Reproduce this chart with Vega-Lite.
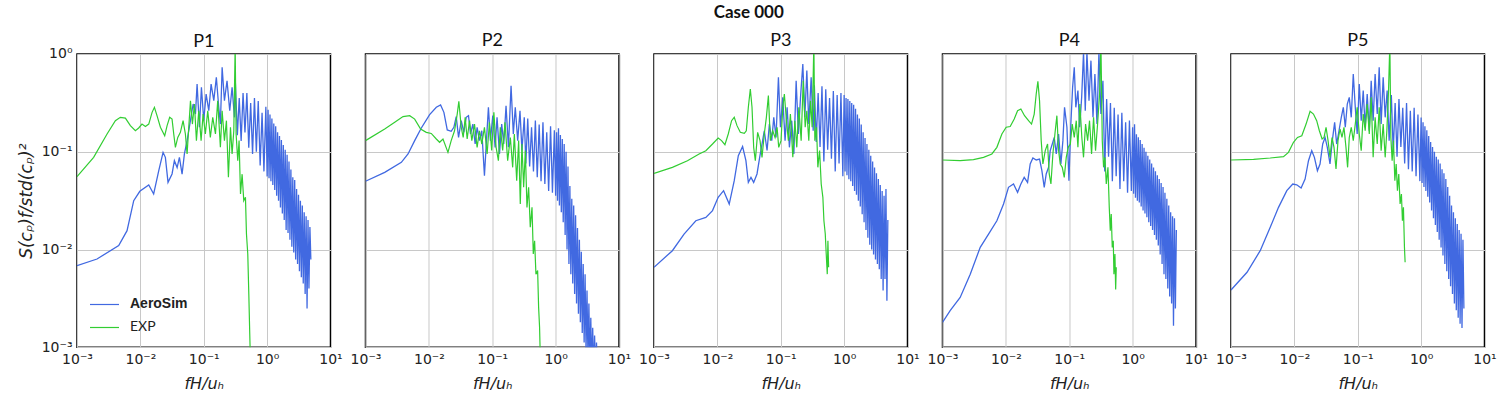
{
"$schema": "https://vega.github.io/schema/vega-lite/v6.json",
"padding": {"left": 16, "top": 4, "right": 10, "bottom": 4},
"title": {"text": "Case 000", "font": "Lato", "fontSize": 17, "fontWeight": "bold", "anchor": "middle", "dx": -8, "offset": 9, "color": "#111"},
"datasets": {
"p1a": [{"x":0.001,"y":0.00684},{"x":0.00207,"y":0.008},{"x":0.00455,"y":0.011},{"x":0.00616,"y":0.0156},{"x":0.00785,"y":0.0316},{"x":0.0098,"y":0.0394},{"x":0.01355,"y":0.0457},{"x":0.0162,"y":0.037},{"x":0.0195,"y":0.064},{"x":0.0228,"y":0.0986},{"x":0.0248,"y":0.0877},{"x":0.0273,"y":0.0486},{"x":0.0316,"y":0.0593},{"x":0.0344,"y":0.081},{"x":0.038,"y":0.069},{"x":0.0413,"y":0.0877},{"x":0.0455,"y":0.059},{"x":0.0495,"y":0.095},{"x":0.0546,"y":0.13},{"x":0.0617,"y":0.209},{"x":0.068,"y":0.308},{"x":0.074,"y":0.243},{"x":0.0785,"y":0.493},{"x":0.0855,"y":0.178},{"x":0.0919,"y":0.457},{"x":0.1,"y":0.209},{"x":0.109,"y":0.39},{"x":0.12,"y":0.263},{"x":0.1306,"y":0.493},{"x":0.144,"y":0.333},{"x":0.158,"y":0.576},{"x":0.1725,"y":0.285},{"x":0.183,"y":0.192},{"x":0.195,"y":0.73},{"x":0.212,"y":0.333},{"x":0.233,"y":0.533},{"x":0.257,"y":0.263},{"x":0.28,"y":0.457},{"x":0.305,"y":0.225},{"x":0.316,"y":0.5},{"x":0.339,"y":0.148},{"x":0.363,"y":0.355},{"x":0.389,"y":0.129},{"x":0.417,"y":0.398},{"x":0.447,"y":0.158},{"x":0.479,"y":0.398},{"x":0.513,"y":0.11},{"x":0.55,"y":0.316},{"x":0.589,"y":0.095},{"x":0.631,"y":0.355},{"x":0.676,"y":0.1},{"x":0.724,"y":0.331},{"x":0.776,"y":0.0724},{"x":0.832,"y":0.251},{"x":0.891,"y":0.063},{"x":0.955,"y":0.288},{"x":1.0,"y":0.056},{"x":1.035,"y":0.269},{"x":1.072,"y":0.0537},{"x":1.109,"y":0.24},{"x":1.148,"y":0.05},{"x":1.189,"y":0.219},{"x":1.23,"y":0.0457},{"x":1.274,"y":0.195},{"x":1.318,"y":0.0407},{"x":1.365,"y":0.182},{"x":1.413,"y":0.0355},{"x":1.462,"y":0.158},{"x":1.514,"y":0.0316},{"x":1.567,"y":0.145},{"x":1.622,"y":0.0269},{"x":1.679,"y":0.132},{"x":1.738,"y":0.0234},{"x":1.799,"y":0.117},{"x":1.862,"y":0.02},{"x":1.928,"y":0.105},{"x":1.995,"y":0.0158},{"x":2.065,"y":0.0933},{"x":2.138,"y":0.0148},{"x":2.213,"y":0.0794},{"x":2.291,"y":0.0126},{"x":2.371,"y":0.066},{"x":2.455,"y":0.0107},{"x":2.541,"y":0.055},{"x":2.63,"y":0.0093},{"x":2.723,"y":0.0513},{"x":2.818,"y":0.0079},{"x":2.917,"y":0.0417},{"x":3.02,"y":0.0071},{"x":3.126,"y":0.0363},{"x":3.236,"y":0.006},{"x":3.35,"y":0.0316},{"x":3.467,"y":0.0052},{"x":3.589,"y":0.0282},{"x":3.715,"y":0.0045},{"x":3.846,"y":0.024},{"x":3.981,"y":0.0035},{"x":4.121,"y":0.0219},{"x":4.266,"y":0.0025},{"x":4.416,"y":0.02},{"x":4.571,"y":0.004},{"x":4.732,"y":0.017},{"x":4.898,"y":0.0079}],
"p1e": [{"x":0.001,"y":0.0556},{"x":0.00183,"y":0.0877},{"x":0.00298,"y":0.152},{"x":0.00403,"y":0.208},{"x":0.00483,"y":0.225},{"x":0.0058,"y":0.221},{"x":0.00695,"y":0.185},{"x":0.00834,"y":0.164},{"x":0.0094,"y":0.175},{"x":0.0106,"y":0.192},{"x":0.012,"y":0.181},{"x":0.01355,"y":0.192},{"x":0.0153,"y":0.253},{"x":0.01665,"y":0.285},{"x":0.0183,"y":0.234},{"x":0.0207,"y":0.178},{"x":0.0242,"y":0.146},{"x":0.0264,"y":0.185},{"x":0.029,"y":0.225},{"x":0.0316,"y":0.216},{"x":0.0336,"y":0.152},{"x":0.0357,"y":0.111},{"x":0.0389,"y":0.14},{"x":0.0428,"y":0.158},{"x":0.0472,"y":0.208},{"x":0.0513,"y":0.152},{"x":0.0546,"y":0.095},{"x":0.058,"y":0.178},{"x":0.0617,"y":0.333},{"x":0.0662,"y":0.192},{"x":0.0713,"y":0.308},{"x":0.0766,"y":0.13},{"x":0.0834,"y":0.263},{"x":0.0908,"y":0.13},{"x":0.0976,"y":0.243},{"x":0.106,"y":0.152},{"x":0.1156,"y":0.263},{"x":0.127,"y":0.14},{"x":0.1387,"y":0.225},{"x":0.153,"y":0.152},{"x":0.166,"y":0.333},{"x":0.183,"y":0.111},{"x":0.195,"y":0.263},{"x":0.212,"y":0.13},{"x":0.228,"y":0.208},{"x":0.245,"y":0.0548},{"x":0.264,"y":0.178},{"x":0.28,"y":0.095},{"x":0.298,"y":0.164},{"x":0.313,"y":1.2},{"x":0.324,"y":0.152},{"x":0.344,"y":0.081},{"x":0.361,"y":0.13},{"x":0.38,"y":0.037},{"x":0.403,"y":0.059},{"x":0.428,"y":0.0316},{"x":0.455,"y":0.0342},{"x":0.472,"y":0.0144},{"x":0.495,"y":0.009},{"x":0.514,"y":0.0035},{"x":0.532,"y":0.00137},{"x":0.546,"y":0.0007}],
"p2a": [{"x":0.001,"y":0.0499},{"x":0.00201,"y":0.0616},{"x":0.00368,"y":0.078},{"x":0.00469,"y":0.095},{"x":0.00597,"y":0.13},{"x":0.0076,"y":0.175},{"x":0.01028,"y":0.24},{"x":0.0131,"y":0.285},{"x":0.0153,"y":0.301},{"x":0.01726,"y":0.253},{"x":0.0195,"y":0.167},{"x":0.0225,"y":0.162},{"x":0.0248,"y":0.178},{"x":0.027,"y":0.229},{"x":0.0294,"y":0.14},{"x":0.0324,"y":0.208},{"x":0.0356,"y":0.158},{"x":0.0388,"y":0.225},{"x":0.0422,"y":0.234},{"x":0.0454,"y":0.152},{"x":0.0494,"y":0.192},{"x":0.0537,"y":0.12},{"x":0.0577,"y":0.178},{"x":0.0628,"y":0.13},{"x":0.0684,"y":0.164},{"x":0.0753,"y":0.0569},{"x":0.081,"y":0.13},{"x":0.087,"y":0.285},{"x":0.0936,"y":0.13},{"x":0.102,"y":0.234},{"x":0.111,"y":0.111},{"x":0.119,"y":0.225},{"x":0.13,"y":0.095},{"x":0.141,"y":0.192},{"x":0.152,"y":0.12},{"x":0.165,"y":0.296},{"x":0.18,"y":0.111},{"x":0.198,"y":0.474},{"x":0.215,"y":0.152},{"x":0.231,"y":0.285},{"x":0.252,"y":0.13},{"x":0.274,"y":0.263},{"x":0.294,"y":0.103},{"x":0.32,"y":0.225},{"x":0.339,"y":0.0759},{"x":0.363,"y":0.219},{"x":0.389,"y":0.0708},{"x":0.417,"y":0.178},{"x":0.447,"y":0.063},{"x":0.479,"y":0.209},{"x":0.513,"y":0.055},{"x":0.55,"y":0.19},{"x":0.589,"y":0.05},{"x":0.631,"y":0.2},{"x":0.676,"y":0.0468},{"x":0.724,"y":0.158},{"x":0.776,"y":0.0398},{"x":0.832,"y":0.182},{"x":0.891,"y":0.038},{"x":0.955,"y":0.166},{"x":1.0,"y":0.0355},{"x":1.035,"y":0.158},{"x":1.072,"y":0.0316},{"x":1.109,"y":0.174},{"x":1.148,"y":0.0282},{"x":1.189,"y":0.148},{"x":1.23,"y":0.024},{"x":1.274,"y":0.135},{"x":1.318,"y":0.019},{"x":1.365,"y":0.12},{"x":1.413,"y":0.0141},{"x":1.462,"y":0.1},{"x":1.514,"y":0.01},{"x":1.567,"y":0.0708},{"x":1.622,"y":0.0071},{"x":1.679,"y":0.0447},{"x":1.738,"y":0.0056},{"x":1.799,"y":0.0331},{"x":1.862,"y":0.0045},{"x":1.928,"y":0.0282},{"x":1.995,"y":0.0035},{"x":2.065,"y":0.0224},{"x":2.138,"y":0.0028},{"x":2.213,"y":0.0166},{"x":2.291,"y":0.0022},{"x":2.371,"y":0.0126},{"x":2.455,"y":0.0018},{"x":2.541,"y":0.0095},{"x":2.63,"y":0.0014},{"x":2.723,"y":0.0071},{"x":2.818,"y":0.00112},{"x":2.917,"y":0.0056},{"x":3.02,"y":0.00089},{"x":3.126,"y":0.0038},{"x":3.236,"y":0.00079},{"x":3.35,"y":0.0028},{"x":3.467,"y":0.00063},{"x":3.589,"y":0.002},{"x":3.715,"y":0.00056},{"x":3.846,"y":0.00158},{"x":3.981,"y":0.0005},{"x":4.121,"y":0.00132},{"x":4.266,"y":0.0005},{"x":4.416,"y":0.00112},{"x":4.571,"y":0.0005},{"x":4.732,"y":0.00079}],
"p2e": [{"x":0.001,"y":0.13},{"x":0.00201,"y":0.171},{"x":0.00289,"y":0.2},{"x":0.00391,"y":0.229},{"x":0.00498,"y":0.234},{"x":0.00597,"y":0.216},{"x":0.00741,"y":0.171},{"x":0.0091,"y":0.158},{"x":0.0109,"y":0.154},{"x":0.0131,"y":0.135},{"x":0.01476,"y":0.125},{"x":0.0167,"y":0.135},{"x":0.02,"y":0.0986},{"x":0.0225,"y":0.13},{"x":0.0254,"y":0.164},{"x":0.028,"y":0.243},{"x":0.0297,"y":0.328},{"x":0.0324,"y":0.178},{"x":0.0348,"y":0.14},{"x":0.0374,"y":0.225},{"x":0.0402,"y":0.135},{"x":0.0438,"y":0.208},{"x":0.0476,"y":0.13},{"x":0.0525,"y":0.192},{"x":0.0577,"y":0.111},{"x":0.0628,"y":0.164},{"x":0.0684,"y":0.12},{"x":0.0753,"y":0.178},{"x":0.083,"y":0.095},{"x":0.0902,"y":0.2},{"x":0.098,"y":0.103},{"x":0.106,"y":0.253},{"x":0.115,"y":0.111},{"x":0.125,"y":0.081},{"x":0.134,"y":0.178},{"x":0.146,"y":0.103},{"x":0.159,"y":0.2},{"x":0.175,"y":0.081},{"x":0.193,"y":0.14},{"x":0.21,"y":0.0693},{"x":0.223,"y":0.152},{"x":0.243,"y":0.0506},{"x":0.261,"y":0.13},{"x":0.277,"y":0.0292},{"x":0.294,"y":0.12},{"x":0.313,"y":0.0433},{"x":0.333,"y":0.103},{"x":0.353,"y":0.027},{"x":0.375,"y":0.0433},{"x":0.398,"y":0.0169},{"x":0.424,"y":0.027},{"x":0.444,"y":0.009},{"x":0.466,"y":0.0123},{"x":0.489,"y":0.0056},{"x":0.52,"y":0.0061},{"x":0.539,"y":0.00256},{"x":0.558,"y":0.0016},{"x":0.573,"y":0.0008}],
"p3a": [{"x":0.001,"y":0.00658},{"x":0.00195,"y":0.00973},{"x":0.00298,"y":0.0144},{"x":0.00457,"y":0.0197},{"x":0.00658,"y":0.0213},{"x":0.00838,"y":0.025},{"x":0.0103,"y":0.0342},{"x":0.01253,"y":0.04},{"x":0.01538,"y":0.0292},{"x":0.01846,"y":0.0506},{"x":0.0214,"y":0.0912},{"x":0.025,"y":0.113},{"x":0.0282,"y":0.081},{"x":0.0308,"y":0.0486},{"x":0.0339,"y":0.0547},{"x":0.0374,"y":0.0486},{"x":0.0422,"y":0.0593},{"x":0.0465,"y":0.0877},{"x":0.0506,"y":0.12},{"x":0.055,"y":0.164},{"x":0.0608,"y":0.103},{"x":0.0662,"y":0.192},{"x":0.0721,"y":0.13},{"x":0.0776,"y":0.225},{"x":0.0843,"y":0.14},{"x":0.0919,"y":0.577},{"x":0.0989,"y":0.178},{"x":0.1076,"y":0.36},{"x":0.117,"y":0.13},{"x":0.126,"y":0.285},{"x":0.137,"y":0.111},{"x":0.149,"y":0.208},{"x":0.161,"y":0.095},{"x":0.175,"y":0.533},{"x":0.19,"y":0.152},{"x":0.205,"y":0.36},{"x":0.223,"y":0.79},{"x":0.24,"y":0.225},{"x":0.258,"y":0.676},{"x":0.277,"y":0.192},{"x":0.302,"y":0.577},{"x":0.325,"y":0.164},{"x":0.339,"y":0.479},{"x":0.363,"y":0.126},{"x":0.389,"y":0.398},{"x":0.417,"y":0.112},{"x":0.447,"y":0.468},{"x":0.479,"y":0.0794},{"x":0.513,"y":0.437},{"x":0.55,"y":0.105},{"x":0.589,"y":0.355},{"x":0.631,"y":0.0851},{"x":0.676,"y":0.417},{"x":0.724,"y":0.063},{"x":0.776,"y":0.38},{"x":0.832,"y":0.0759},{"x":0.891,"y":0.398},{"x":0.955,"y":0.0562},{"x":1.0,"y":0.38},{"x":1.035,"y":0.063},{"x":1.072,"y":0.355},{"x":1.109,"y":0.0575},{"x":1.148,"y":0.347},{"x":1.189,"y":0.0525},{"x":1.23,"y":0.331},{"x":1.274,"y":0.05},{"x":1.318,"y":0.316},{"x":1.365,"y":0.0447},{"x":1.413,"y":0.302},{"x":1.462,"y":0.0398},{"x":1.514,"y":0.275},{"x":1.567,"y":0.0363},{"x":1.622,"y":0.24},{"x":1.679,"y":0.0316},{"x":1.738,"y":0.219},{"x":1.799,"y":0.0275},{"x":1.862,"y":0.19},{"x":1.928,"y":0.0229},{"x":1.995,"y":0.158},{"x":2.065,"y":0.019},{"x":2.138,"y":0.138},{"x":2.213,"y":0.0158},{"x":2.291,"y":0.12},{"x":2.371,"y":0.0132},{"x":2.455,"y":0.105},{"x":2.541,"y":0.0112},{"x":2.63,"y":0.0912},{"x":2.723,"y":0.01},{"x":2.818,"y":0.0794},{"x":2.917,"y":0.0089},{"x":3.02,"y":0.0692},{"x":3.126,"y":0.0079},{"x":3.236,"y":0.0603},{"x":3.35,"y":0.0071},{"x":3.467,"y":0.0525},{"x":3.589,"y":0.0063},{"x":3.715,"y":0.0457},{"x":3.846,"y":0.005},{"x":3.981,"y":0.0398},{"x":4.121,"y":0.0038},{"x":4.266,"y":0.0355},{"x":4.416,"y":0.005},{"x":4.571,"y":0.0417},{"x":4.732,"y":0.003},{"x":4.898,"y":0.02}],
"p3e": [{"x":0.001,"y":0.0601},{"x":0.00195,"y":0.0693},{"x":0.00337,"y":0.081},{"x":0.00515,"y":0.095},{"x":0.00658,"y":0.1026},{"x":0.00838,"y":0.12},{"x":0.0103,"y":0.138},{"x":0.01164,"y":0.13},{"x":0.01315,"y":0.118},{"x":0.01485,"y":0.152},{"x":0.01676,"y":0.208},{"x":0.01846,"y":0.225},{"x":0.0204,"y":0.185},{"x":0.023,"y":0.158},{"x":0.0266,"y":0.154},{"x":0.0286,"y":0.164},{"x":0.0308,"y":0.285},{"x":0.0331,"y":0.438},{"x":0.0352,"y":0.285},{"x":0.0374,"y":0.111},{"x":0.0397,"y":0.081},{"x":0.0432,"y":0.158},{"x":0.0471,"y":0.13},{"x":0.0506,"y":0.0877},{"x":0.055,"y":0.152},{"x":0.0593,"y":0.225},{"x":0.0638,"y":0.375},{"x":0.0686,"y":0.13},{"x":0.0747,"y":0.164},{"x":0.0813,"y":0.14},{"x":0.0875,"y":0.178},{"x":0.0929,"y":0.111},{"x":0.101,"y":0.13},{"x":0.1076,"y":0.285},{"x":0.114,"y":0.39},{"x":0.123,"y":0.208},{"x":0.132,"y":0.13},{"x":0.142,"y":0.243},{"x":0.155,"y":0.0877},{"x":0.167,"y":0.208},{"x":0.179,"y":0.111},{"x":0.193,"y":0.285},{"x":0.21,"y":0.13},{"x":0.226,"y":0.533},{"x":0.243,"y":0.178},{"x":0.258,"y":0.263},{"x":0.277,"y":0.13},{"x":0.295,"y":0.333},{"x":0.313,"y":0.178},{"x":0.333,"y":1.3},{"x":0.345,"y":0.13},{"x":0.367,"y":0.178},{"x":0.385,"y":0.0693},{"x":0.41,"y":0.103},{"x":0.435,"y":0.0468},{"x":0.462,"y":0.0342},{"x":0.48,"y":0.0197},{"x":0.504,"y":0.0144},{"x":0.522,"y":0.009},{"x":0.542,"y":0.0056},{"x":0.555,"y":0.0123},{"x":0.569,"y":0.0066}],
"p4a": [{"x":0.001,"y":0.0018},{"x":0.00132,"y":0.00237},{"x":0.0019,"y":0.00324},{"x":0.00274,"y":0.0056},{"x":0.00394,"y":0.01054},{"x":0.00533,"y":0.0144},{"x":0.00721,"y":0.0197},{"x":0.00919,"y":0.0292},{"x":0.011,"y":0.0433},{"x":0.0132,"y":0.0468},{"x":0.0153,"y":0.0385},{"x":0.01725,"y":0.0468},{"x":0.01946,"y":0.0547},{"x":0.022,"y":0.0486},{"x":0.0242,"y":0.075},{"x":0.0267,"y":0.0863},{"x":0.0301,"y":0.0824},{"x":0.034,"y":0.0843},{"x":0.037,"y":0.064},{"x":0.0403,"y":0.0433},{"x":0.0433,"y":0.0593},{"x":0.0472,"y":0.0693},{"x":0.0501,"y":0.1026},{"x":0.054,"y":0.12},{"x":0.058,"y":0.14},{"x":0.0624,"y":0.095},{"x":0.0679,"y":0.152},{"x":0.0738,"y":0.075},{"x":0.0794,"y":0.13},{"x":0.0843,"y":0.285},{"x":0.0919,"y":0.178},{"x":0.0989,"y":0.0506},{"x":0.106,"y":0.192},{"x":0.113,"y":0.456},{"x":0.12,"y":0.731},{"x":0.127,"y":0.285},{"x":0.137,"y":0.422},{"x":0.146,"y":0.178},{"x":0.157,"y":0.36},{"x":0.168,"y":1.05},{"x":0.179,"y":0.263},{"x":0.19,"y":1.05},{"x":0.205,"y":0.333},{"x":0.22,"y":0.855},{"x":0.237,"y":0.225},{"x":0.254,"y":0.624},{"x":0.274,"y":0.192},{"x":0.294,"y":1.05},{"x":0.316,"y":0.243},{"x":0.34,"y":0.533},{"x":0.363,"y":0.063},{"x":0.389,"y":0.347},{"x":0.417,"y":0.0891},{"x":0.447,"y":0.316},{"x":0.479,"y":0.0501},{"x":0.513,"y":0.282},{"x":0.55,"y":0.0562},{"x":0.589,"y":0.24},{"x":0.631,"y":0.0417},{"x":0.676,"y":0.251},{"x":0.724,"y":0.0501},{"x":0.776,"y":0.2},{"x":0.832,"y":0.038},{"x":0.891,"y":0.209},{"x":0.955,"y":0.0398},{"x":1.0,"y":0.178},{"x":1.035,"y":0.0372},{"x":1.072,"y":0.191},{"x":1.109,"y":0.0339},{"x":1.148,"y":0.151},{"x":1.189,"y":0.0316},{"x":1.23,"y":0.141},{"x":1.274,"y":0.0302},{"x":1.318,"y":0.132},{"x":1.365,"y":0.0275},{"x":1.413,"y":0.12},{"x":1.462,"y":0.0251},{"x":1.514,"y":0.11},{"x":1.567,"y":0.0234},{"x":1.622,"y":0.1},{"x":1.679,"y":0.0214},{"x":1.738,"y":0.0912},{"x":1.799,"y":0.019},{"x":1.862,"y":0.0832},{"x":1.928,"y":0.0174},{"x":1.995,"y":0.0759},{"x":2.065,"y":0.0158},{"x":2.138,"y":0.0692},{"x":2.213,"y":0.0141},{"x":2.291,"y":0.063},{"x":2.371,"y":0.0126},{"x":2.455,"y":0.0575},{"x":2.541,"y":0.011},{"x":2.63,"y":0.0525},{"x":2.723,"y":0.0089},{"x":2.818,"y":0.0479},{"x":2.917,"y":0.0071},{"x":3.02,"y":0.0437},{"x":3.126,"y":0.0056},{"x":3.236,"y":0.038},{"x":3.35,"y":0.005},{"x":3.467,"y":0.0331},{"x":3.589,"y":0.004},{"x":3.715,"y":0.0282},{"x":3.846,"y":0.0033},{"x":3.981,"y":0.024},{"x":4.121,"y":0.0028},{"x":4.266,"y":0.0219},{"x":4.416,"y":0.00166},{"x":4.571,"y":0.0209},{"x":4.732,"y":0.0025},{"x":4.898,"y":0.0158}],
"p4e": [{"x":0.001,"y":0.0824},{"x":0.0019,"y":0.081},{"x":0.00308,"y":0.083},{"x":0.00444,"y":0.0877},{"x":0.00601,"y":0.095},{"x":0.00721,"y":0.111},{"x":0.00865,"y":0.152},{"x":0.0101,"y":0.178},{"x":0.0117,"y":0.181},{"x":0.01355,"y":0.216},{"x":0.0153,"y":0.263},{"x":0.01725,"y":0.274},{"x":0.0197,"y":0.234},{"x":0.0228,"y":0.208},{"x":0.0254,"y":0.192},{"x":0.028,"y":0.243},{"x":0.0301,"y":0.39},{"x":0.032,"y":0.525},{"x":0.034,"y":0.333},{"x":0.0361,"y":0.13},{"x":0.0384,"y":0.075},{"x":0.0418,"y":0.1026},{"x":0.0455,"y":0.12},{"x":0.0483,"y":0.0593},{"x":0.0514,"y":0.0468},{"x":0.0552,"y":0.095},{"x":0.0594,"y":0.152},{"x":0.0638,"y":0.234},{"x":0.0679,"y":0.1026},{"x":0.0721,"y":0.075},{"x":0.0776,"y":0.0693},{"x":0.0834,"y":0.0547},{"x":0.0897,"y":0.0877},{"x":0.0964,"y":0.111},{"x":0.104,"y":0.12},{"x":0.1114,"y":0.192},{"x":0.12,"y":0.14},{"x":0.129,"y":0.208},{"x":0.137,"y":0.111},{"x":0.147,"y":0.308},{"x":0.158,"y":0.14},{"x":0.168,"y":0.0877},{"x":0.181,"y":0.192},{"x":0.195,"y":0.13},{"x":0.209,"y":0.208},{"x":0.225,"y":0.095},{"x":0.242,"y":0.225},{"x":0.26,"y":0.1026},{"x":0.28,"y":0.192},{"x":0.301,"y":0.39},{"x":0.316,"y":1.3},{"x":0.332,"y":0.13},{"x":0.348,"y":0.0693},{"x":0.366,"y":0.0877},{"x":0.384,"y":0.0468},{"x":0.408,"y":0.0693},{"x":0.428,"y":0.027},{"x":0.444,"y":0.0156},{"x":0.46,"y":0.0231},{"x":0.477,"y":0.0105},{"x":0.495,"y":0.0123},{"x":0.507,"y":0.0056},{"x":0.526,"y":0.009},{"x":0.54,"y":0.0039},{"x":0.552,"y":0.0066}],
"p5a": [{"x":0.001,"y":0.00385},{"x":0.00179,"y":0.00585},{"x":0.00289,"y":0.00973},{"x":0.00416,"y":0.01687},{"x":0.00562,"y":0.027},{"x":0.0076,"y":0.04},{"x":0.00944,"y":0.0468},{"x":0.0109,"y":0.046},{"x":0.01277,"y":0.0426},{"x":0.01476,"y":0.0526},{"x":0.0167,"y":0.081},{"x":0.0188,"y":0.1026},{"x":0.0207,"y":0.0877},{"x":0.0231,"y":0.064},{"x":0.0254,"y":0.075},{"x":0.028,"y":0.12},{"x":0.0305,"y":0.14},{"x":0.0331,"y":0.111},{"x":0.0365,"y":0.075},{"x":0.0397,"y":0.13},{"x":0.0432,"y":0.2},{"x":0.0465,"y":0.12},{"x":0.0506,"y":0.164},{"x":0.055,"y":0.225},{"x":0.0592,"y":0.285},{"x":0.0636,"y":0.178},{"x":0.0684,"y":0.308},{"x":0.0735,"y":0.36},{"x":0.079,"y":0.225},{"x":0.085,"y":0.624},{"x":0.0914,"y":0.285},{"x":0.098,"y":0.152},{"x":0.1057,"y":0.493},{"x":0.1135,"y":0.208},{"x":0.122,"y":0.422},{"x":0.131,"y":0.178},{"x":0.141,"y":0.39},{"x":0.152,"y":0.164},{"x":0.163,"y":0.533},{"x":0.175,"y":0.208},{"x":0.188,"y":0.624},{"x":0.203,"y":0.243},{"x":0.218,"y":0.731},{"x":0.234,"y":0.192},{"x":0.252,"y":0.577},{"x":0.271,"y":0.225},{"x":0.291,"y":0.422},{"x":0.313,"y":0.13},{"x":0.339,"y":0.38},{"x":0.363,"y":0.1},{"x":0.389,"y":0.316},{"x":0.417,"y":0.0891},{"x":0.447,"y":0.347},{"x":0.479,"y":0.112},{"x":0.513,"y":0.282},{"x":0.55,"y":0.0759},{"x":0.589,"y":0.316},{"x":0.631,"y":0.0661},{"x":0.676,"y":0.263},{"x":0.724,"y":0.063},{"x":0.776,"y":0.282},{"x":0.832,"y":0.0562},{"x":0.891,"y":0.24},{"x":0.955,"y":0.0501},{"x":1.0,"y":0.224},{"x":1.035,"y":0.0479},{"x":1.072,"y":0.2},{"x":1.109,"y":0.0437},{"x":1.148,"y":0.182},{"x":1.189,"y":0.0398},{"x":1.23,"y":0.166},{"x":1.274,"y":0.0347},{"x":1.318,"y":0.145},{"x":1.365,"y":0.0302},{"x":1.413,"y":0.126},{"x":1.462,"y":0.0251},{"x":1.514,"y":0.112},{"x":1.567,"y":0.0209},{"x":1.622,"y":0.1},{"x":1.679,"y":0.0178},{"x":1.738,"y":0.0891},{"x":1.799,"y":0.0151},{"x":1.862,"y":0.0832},{"x":1.928,"y":0.0126},{"x":1.995,"y":0.0759},{"x":2.065,"y":0.0105},{"x":2.138,"y":0.0661},{"x":2.213,"y":0.0087},{"x":2.291,"y":0.0603},{"x":2.371,"y":0.0071},{"x":2.455,"y":0.0525},{"x":2.541,"y":0.006},{"x":2.63,"y":0.0437},{"x":2.723,"y":0.005},{"x":2.818,"y":0.0355},{"x":2.917,"y":0.0042},{"x":3.02,"y":0.0282},{"x":3.126,"y":0.0035},{"x":3.236,"y":0.024},{"x":3.35,"y":0.0028},{"x":3.467,"y":0.0209},{"x":3.589,"y":0.0024},{"x":3.715,"y":0.0182},{"x":3.846,"y":0.002},{"x":3.981,"y":0.0158},{"x":4.121,"y":0.00174},{"x":4.266,"y":0.0145},{"x":4.416,"y":0.00158},{"x":4.571,"y":0.0126},{"x":4.732,"y":0.0025}],
"p5e": [{"x":0.001,"y":0.0824},{"x":0.00227,"y":0.0837},{"x":0.00416,"y":0.0863},{"x":0.00673,"y":0.0891},{"x":0.00807,"y":0.0986},{"x":0.00968,"y":0.125},{"x":0.0112,"y":0.14},{"x":0.0131,"y":0.146},{"x":0.0153,"y":0.192},{"x":0.0177,"y":0.259},{"x":0.02,"y":0.243},{"x":0.0225,"y":0.208},{"x":0.0248,"y":0.164},{"x":0.0274,"y":0.135},{"x":0.0294,"y":0.14},{"x":0.0316,"y":0.178},{"x":0.034,"y":0.13},{"x":0.0365,"y":0.0877},{"x":0.0393,"y":0.14},{"x":0.0422,"y":0.111},{"x":0.0454,"y":0.0667},{"x":0.0488,"y":0.13},{"x":0.0525,"y":0.171},{"x":0.0564,"y":0.14},{"x":0.0606,"y":0.178},{"x":0.0652,"y":0.111},{"x":0.0692,"y":0.0693},{"x":0.0735,"y":0.14},{"x":0.079,"y":0.178},{"x":0.085,"y":0.13},{"x":0.0914,"y":0.192},{"x":0.098,"y":0.285},{"x":0.1057,"y":0.152},{"x":0.1135,"y":0.1026},{"x":0.122,"y":0.243},{"x":0.131,"y":0.164},{"x":0.141,"y":0.308},{"x":0.152,"y":0.152},{"x":0.163,"y":0.36},{"x":0.175,"y":0.0877},{"x":0.188,"y":0.225},{"x":0.203,"y":0.12},{"x":0.218,"y":0.285},{"x":0.234,"y":0.1026},{"x":0.252,"y":0.192},{"x":0.271,"y":0.0877},{"x":0.288,"y":0.164},{"x":0.306,"y":0.422},{"x":0.321,"y":1.3},{"x":0.333,"y":0.14},{"x":0.349,"y":0.081},{"x":0.366,"y":0.13},{"x":0.385,"y":0.0506},{"x":0.404,"y":0.075},{"x":0.423,"y":0.04},{"x":0.444,"y":0.0593},{"x":0.466,"y":0.0292},{"x":0.489,"y":0.037},{"x":0.507,"y":0.0197},{"x":0.526,"y":0.027},{"x":0.546,"y":0.0105},{"x":0.559,"y":0.0074}]
},
"hconcat": [
{
"width": 253.5, "height": 293.3,
"title": {"text": "P1", "offset": -4},
"encoding": {
"x": {"field": "x", "type": "quantitative", "scale": {"type": "log", "domain": [0.001, 10], "nice": false}, "axis": {"values": [0.001, 0.01, 0.1, 1, 10], "labelExpr": "datum.value < 0.005 ? '10⁻³' : datum.value < 0.05 ? '10⁻²' : datum.value < 0.5 ? '10⁻¹' : datum.value < 5 ? '10⁰' : '10¹'", "title": "fH/uₕ"}},
"y": {"field": "y", "type": "quantitative", "scale": {"type": "log", "domain": [0.001, 1], "nice": false}, "axis": {"values": [0.001, 0.01, 0.1, 1], "labelExpr": "datum.value < 0.005 ? '10⁻³' : datum.value < 0.05 ? '10⁻²' : datum.value < 0.5 ? '10⁻¹' : '10⁰'", "title": "S(cₚ)f/std(cₚ)²", "titleFontSize": 17, "titlePadding": 6}}
},
"layer": [
{"data": {"name": "p1a"}, "mark": {"type": "line", "clip": true, "strokeWidth": 1.3}, "encoding": {"color": {"datum": "AeroSim", "type": "nominal", "scale": {"domain": ["AeroSim", "EXP"], "range": ["#4169E1", "#32CD32"]}, "legend": {"orient": "bottom-left", "offset": 12, "title": null, "padding": 0, "symbolType": "stroke", "symbolSize": 841, "symbolStrokeWidth": 1.2, "labelFontSize": 14, "labelFont": "Lato", "labelColor": "#222", "labelOffset": 10, "rowPadding": -13, "encode": {"labels": {"update": {"fontWeight": {"signal": "datum.label == 'AeroSim' ? 'bold' : 'normal'"}, "font": {"signal": "datum.label == 'AeroSim' ? 'Liberation Sans' : 'Lato'"}}}}}}}},
{"data": {"name": "p1e"}, "mark": {"type": "line", "clip": true, "strokeWidth": 1.2}, "encoding": {"color": {"datum": "EXP", "type": "nominal", "scale": {"domain": ["AeroSim", "EXP"], "range": ["#4169E1", "#32CD32"]}}}}
]
},
{
"width": 253.5, "height": 293.3,
"title": {"text": "P2"},
"encoding": {
"x": {"field": "x", "type": "quantitative", "scale": {"type": "log", "domain": [0.001, 10], "nice": false}, "axis": {"values": [0.001, 0.01, 0.1, 1, 10], "labelExpr": "datum.value < 0.005 ? '10⁻³' : datum.value < 0.05 ? '10⁻²' : datum.value < 0.5 ? '10⁻¹' : datum.value < 5 ? '10⁰' : '10¹'", "title": "fH/uₕ"}},
"y": {"field": "y", "type": "quantitative", "scale": {"type": "log", "domain": [0.001, 1], "nice": false}, "axis": {"values": [0.001, 0.01, 0.1, 1], "labels": false, "title": null}}
},
"layer": [
{"data": {"name": "p2a"}, "mark": {"type": "line", "clip": true, "strokeWidth": 1.3}, "encoding": {"color": {"datum": "AeroSim", "type": "nominal", "scale": {"domain": ["AeroSim", "EXP"], "range": ["#4169E1", "#32CD32"]}, "legend": null}}},
{"data": {"name": "p2e"}, "mark": {"type": "line", "clip": true, "strokeWidth": 1.2}, "encoding": {"color": {"datum": "EXP", "type": "nominal", "scale": {"domain": ["AeroSim", "EXP"], "range": ["#4169E1", "#32CD32"]}, "legend": null}}}
]
},
{
"width": 253.5, "height": 293.3,
"title": {"text": "P3"},
"encoding": {
"x": {"field": "x", "type": "quantitative", "scale": {"type": "log", "domain": [0.001, 10], "nice": false}, "axis": {"values": [0.001, 0.01, 0.1, 1, 10], "labelExpr": "datum.value < 0.005 ? '10⁻³' : datum.value < 0.05 ? '10⁻²' : datum.value < 0.5 ? '10⁻¹' : datum.value < 5 ? '10⁰' : '10¹'", "title": "fH/uₕ"}},
"y": {"field": "y", "type": "quantitative", "scale": {"type": "log", "domain": [0.001, 1], "nice": false}, "axis": {"values": [0.001, 0.01, 0.1, 1], "labels": false, "title": null}}
},
"layer": [
{"data": {"name": "p3a"}, "mark": {"type": "line", "clip": true, "strokeWidth": 1.3}, "encoding": {"color": {"datum": "AeroSim", "type": "nominal", "scale": {"domain": ["AeroSim", "EXP"], "range": ["#4169E1", "#32CD32"]}, "legend": null}}},
{"data": {"name": "p3e"}, "mark": {"type": "line", "clip": true, "strokeWidth": 1.2}, "encoding": {"color": {"datum": "EXP", "type": "nominal", "scale": {"domain": ["AeroSim", "EXP"], "range": ["#4169E1", "#32CD32"]}, "legend": null}}}
]
},
{
"width": 253.5, "height": 293.3,
"title": {"text": "P4"},
"encoding": {
"x": {"field": "x", "type": "quantitative", "scale": {"type": "log", "domain": [0.001, 10], "nice": false}, "axis": {"values": [0.001, 0.01, 0.1, 1, 10], "labelExpr": "datum.value < 0.005 ? '10⁻³' : datum.value < 0.05 ? '10⁻²' : datum.value < 0.5 ? '10⁻¹' : datum.value < 5 ? '10⁰' : '10¹'", "title": "fH/uₕ"}},
"y": {"field": "y", "type": "quantitative", "scale": {"type": "log", "domain": [0.001, 1], "nice": false}, "axis": {"values": [0.001, 0.01, 0.1, 1], "labels": false, "title": null}}
},
"layer": [
{"data": {"name": "p4a"}, "mark": {"type": "line", "clip": true, "strokeWidth": 1.3}, "encoding": {"color": {"datum": "AeroSim", "type": "nominal", "scale": {"domain": ["AeroSim", "EXP"], "range": ["#4169E1", "#32CD32"]}, "legend": null}}},
{"data": {"name": "p4e"}, "mark": {"type": "line", "clip": true, "strokeWidth": 1.2}, "encoding": {"color": {"datum": "EXP", "type": "nominal", "scale": {"domain": ["AeroSim", "EXP"], "range": ["#4169E1", "#32CD32"]}, "legend": null}}}
]
},
{
"width": 253.5, "height": 293.3,
"title": {"text": "P5"},
"encoding": {
"x": {"field": "x", "type": "quantitative", "scale": {"type": "log", "domain": [0.001, 10], "nice": false}, "axis": {"values": [0.001, 0.01, 0.1, 1, 10], "labelExpr": "datum.value < 0.005 ? '10⁻³' : datum.value < 0.05 ? '10⁻²' : datum.value < 0.5 ? '10⁻¹' : datum.value < 5 ? '10⁰' : '10¹'", "title": "fH/uₕ"}},
"y": {"field": "y", "type": "quantitative", "scale": {"type": "log", "domain": [0.001, 1], "nice": false}, "axis": {"values": [0.001, 0.01, 0.1, 1], "labels": false, "title": null}}
},
"layer": [
{"data": {"name": "p5a"}, "mark": {"type": "line", "clip": true, "strokeWidth": 1.3}, "encoding": {"color": {"datum": "AeroSim", "type": "nominal", "scale": {"domain": ["AeroSim", "EXP"], "range": ["#4169E1", "#32CD32"]}, "legend": null}}},
{"data": {"name": "p5e"}, "mark": {"type": "line", "clip": true, "strokeWidth": 1.2}, "encoding": {"color": {"datum": "EXP", "type": "nominal", "scale": {"domain": ["AeroSim", "EXP"], "range": ["#4169E1", "#32CD32"]}, "legend": null}}}
]
}
],
"spacing": 34.5,
"bounds": "flush",
"resolve": {"scale": {"color": "independent", "x": "independent", "y": "independent"}, "legend": {"color": "independent"}},
"config": {
"view": {"stroke": "#000", "strokeWidth": 1.5},
"axis": {"grid": true, "gridColor": "#c8c8c8", "gridWidth": 1, "domain": false, "ticks": false, "labelFont": "DejaVu Sans", "labelFontSize": 14, "labelColor": "#222", "labelPadding": 5, "labelFlush": false, "labelOverlap": false, "labelBound": false, "titleFont": "DejaVu Sans", "titleFontSize": 16, "titleFontWeight": "normal", "titleFontStyle": "italic", "titleColor": "#222"},
"axisX": {"titlePadding": 9},
"axisY": {"titlePadding": 8},
"title": {"font": "Lato", "fontSize": 18, "fontWeight": "normal", "color": "#111", "offset": 4}
}
}
